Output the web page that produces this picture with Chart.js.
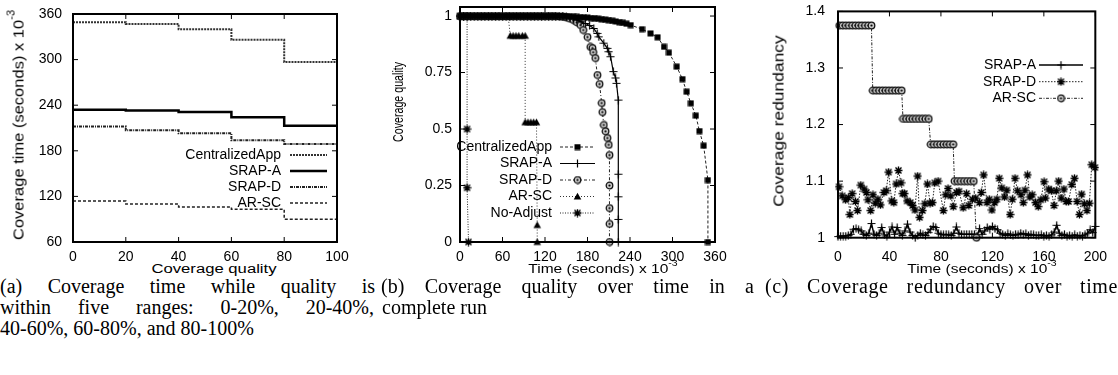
<!DOCTYPE html>
<html><head><meta charset="utf-8">
<script src="https://cdn.jsdelivr.net/npm/chart.js@4.4.0/dist/chart.umd.min.js"></script>
<style>
html,body{margin:0;padding:0;background:#fff;}
#root{position:relative;width:1118px;height:375px;overflow:hidden;background:#fff;}
canvas{position:absolute;}
.lab{position:absolute;font-family:"Liberation Sans",Arial,sans-serif;color:#000;white-space:nowrap;line-height:1;}
.lab sup{font-size:68%;vertical-align:top;position:relative;top:-0.35em;}
.cap{position:absolute;font-family:"Liberation Serif","Times New Roman",serif;font-size:20px;line-height:21px;white-space:nowrap;color:#000;}
.just{text-align:justify;text-align-last:justify;white-space:normal;}
</style></head>
<body><div id="root">
<canvas id="ca" width="360" height="272" style="left:0;top:-10px;width:360px;height:272px"></canvas>
<canvas id="cb" width="360" height="272" style="left:380px;top:-10px;width:360px;height:272px"></canvas>
<canvas id="cc" width="368" height="272" style="left:750px;top:-10px;width:368px;height:272px"></canvas>

<div class="lab" id="ya" style="left:18px;top:125px;font-size:15px">Coverage time (seconds) x 10<sup>-3</sup></div>
<div class="lab" id="yb" style="left:398px;top:102px;font-size:14px">Coverage quality</div>
<div class="lab" id="yc" style="left:778px;top:121px;font-size:15px">Coverage redundancy</div>

<div class="lab" id="xa" style="left:214px;top:269px;font-size:12px">Coverage quality</div>
<div class="lab" id="xb" style="left:603px;top:269px;font-size:12px">Time (seconds) x 10<sup>-3</sup></div>
<div class="lab" id="xc" style="left:982px;top:269px;font-size:12px">Time (seconds) x 10<sup>-3</sup></div>

<div class="cap just" style="left:0;top:276px;width:375px">(a) Coverage time while quality is</div>
<div class="cap just" style="left:0;top:297px;width:374px">within five ranges: 0-20%, 20-40%,</div>
<div class="cap" style="left:0;top:318px">40-60%, 60-80%, and 80-100%</div>
<div class="cap just" style="left:381px;top:276px;width:373px">(b) Coverage quality over time in a</div>
<div class="cap" style="left:382px;top:297px">complete run</div>
<div class="cap just" style="left:765px;top:276px;width:353px;letter-spacing:0.6px">(c) Coverage redundancy over time</div>
</div>
<script>
// ---------- Panel (a): coverage time per quality range ----------
const aQuality     = [0, 20, 40, 60, 80, 100];
const aCentralized = [349, 347, 340, 326, 297, 297];
const aSrapA       = [234, 233, 231, 224, 213, 213];
const aSrapD       = [212, 207, 203, 194, 189, 189];
const aArSc        = [114, 110, 106, 103, 90, 90];
const aTicksX = [0, 20, 40, 60, 80, 100];
const aTicksY = [60, 120, 180, 240, 300, 360];

// ---------- Panel (b): coverage quality over time ----------
const bCentralT = [0,5,10,15,20,25,30,35,40,45,50,55,60,65,70,75,80,85,90,95,100,105,110,115,120,125,130,135,140,145,150,
  155,160,165,170,175,180,185,190,195,200,205,210,215,220,225,230,235,
  241,257,269,279,288,295,306,314,320,326,333,338,344,350,350];
const bCentralQ = [1,1,1,1,1,1,1,1,1,1,1,1,1,1,1,1,1,1,1,1,1,1,1,1,1,1,1,1,1,1,1,
  0.998,0.997,0.996,0.995,0.994,0.993,0.991,0.99,0.988,0.986,0.984,0.982,0.979,0.976,0.973,0.97,0.966,
  0.96,0.942,0.923,0.906,0.864,0.838,0.776,0.721,0.665,0.614,0.559,0.491,0.426,0.274,0];
const bSrapAT = [0,5,10,15,20,25,30,35,40,45,50,55,60,65,70,75,80,85,90,95,100,105,110,115,120,125,130,135,140,145,
  150,155,160,165,171,177,183,
  188.9,193.7,196,203,208,210,212.6,216.4,219.7,221,
  223.5,223.5,223.5,223.5,223.5];
const bSrapAQ = [1,1,1,1,1,1,1,1,1,1,1,1,1,1,1,1,1,1,1,1,1,1,1,1,1,1,1,1,1,1,
  0.996,0.993,0.988,0.982,0.975,0.967,0.958,
  0.945,0.923,0.908,0.88,0.857,0.842,0.82,0.754,0.726,0.702,
  0.628,0.3,0.2,0.1,0];
const bSrapDT = [0,5,10,15,20,25,30,35,40,45,50,55,60,65,70,75,80,85,90,95,100,105,110,115,120,125,130,135,
  140,145,150,155,160,165,170,174,180,184,
  187,188,191,194,197,200,201,203,205.5,208,
  210,211,211,211,211,211];
const bSrapDQ = [1,1,1,1,1,1,1,1,1,1,1,1,1,1,1,1,1,1,1,1,1,1,1,1,1,1,1,1,
  0.998,0.996,0.993,0.988,0.982,0.972,0.96,0.938,0.907,0.863,
  0.858,0.84,0.814,0.739,0.699,0.615,0.575,0.518,0.49,0.46,
  0.43,0.385,0.25,0.15,0.08,0];
const bArScT = [0,5,10,15,20,25,30,35,40,45,50,55,60,65,68,71,75,79,83,88,92,92,96,100,104,108,109,109];
const bArScQ = [1,1,1,1,1,1,1,1,1,1,1,1,1,1,1,0.913,0.913,0.913,0.913,0.913,0.913,0.53,0.53,0.53,0.53,0.53,0.075,0];
const bNoAdjT = [0,5,10,10,10,12];
const bNoAdjQ = [1,1,1,0.5,0.24,0];
const bTicksX = [0, 60, 120, 180, 240, 300, 360];
const bTicksY = [0, 0.25, 0.5, 0.75, 1];

// ---------- Panel (c): coverage redundancy over time ----------
const cSrapAT = [0,2,4,6,8,10,12,14,16,18,20,22,24,26,28,30,32,34,36,38,40,42,44,46,48,50,52,54,56,58,60,62,64,66,68,70,
  72,74,76,78,80,82,84,86,88,90,92,94,96,98,100,102,104,106,108,110,112,114,116,118,120,122,124,126,128,130,132,134,136,138,
  140,142,144,146,148,150,152,154,156,158,160,162,164,166,168,170,172,174,176,178,180,182,184,186,188,190,192,194,196,198,200];
const cSrapAR = [1.002,1.003,1.003,1.003,1.004,1.006,1.015,1.016,1.014,1.012,1.006,1.004,1.008,1.025,1.006,1.004,1.008,1.018,1.005,1.003,
  1.01,1.019,1.006,1.018,1.008,1.004,1.012,1.024,1.01,1.004,1.0,1.004,1.008,1.005,1.004,1.009,1.015,1.02,1.018,1.008,
  1.006,1.005,1.006,1.005,1.004,1.008,1.019,1.008,1.006,1.006,1.006,1.006,1.006,1.006,1.003,1.016,1.006,1.012,1.018,1.015,
  1.02,1.016,1.014,1.008,1.006,1.004,1.007,1.005,1.004,1.006,1.005,1.008,1.006,1.007,1.004,1.006,1.005,1.004,1.004,1.005,
  1.003,1.004,1.003,1.005,1.01,1.022,1.008,1.004,1.006,1.003,1.004,1.003,1.005,1.003,1.004,1.003,1.005,1.008,1.014,1.009,1.02];
const cSrapDT = [0.8,3.3,5.9,8,9.2,11,13.6,15.2,17.7,20.3,22.1,23.3,25.4,27.2,29,31,33,35.7,37.5,39.3,41.8,43.4,45.2,47,49,
  50.3,51.6,53.7,56.2,58,59.8,61.9,63.4,65.7,67.5,69.5,71.6,73.4,75.2,77.8,81.9,83.7,85.5,87.6,89.6,92.2,94,97.3,99.9,
  101.7,104.5,107,109.9,111.4,113.2,115.8,117.6,119.6,121.7,123.5,125.3,127.3,129.4,131.2,133.8,135.5,137.6,139.6,142.2,
  144,145.3,147.3,149.1,150.9,153.5,155.6,157.6,160.2,161.2,163.8,165.8,167.9,169.7,171.5,173.5,175.6,177.4,179.2,181.7,
  183.8,185.8,187.7,189.4,191.5,193.5,195.4,197.2,199.7];
const cSrapDR = [1.09,1.074,1.067,1.071,1.041,1.078,1.064,1.048,1.093,1.086,1.08,1.067,1.048,1.076,1.061,1.068,1.058,1.08,1.083,1.116,
  1.065,1.062,1.095,1.119,1.097,1.078,1.078,1.065,1.062,1.057,1.049,1.109,1.036,1.048,1.06,1.095,1.061,1.062,1.097,1.1,
  1.048,1.076,1.087,1.074,1.055,1.08,1.082,1.053,1.078,1.057,1.068,1.07,1.062,1.08,1.111,1.062,1.068,1.049,1.062,1.068,
  1.105,1.088,1.072,1.084,1.041,1.068,1.105,1.083,1.076,1.062,1.084,1.111,1.072,1.076,1.062,1.055,1.067,1.099,1.07,1.086,
  1.083,1.057,1.083,1.1,1.07,1.086,1.064,1.064,1.094,1.105,1.064,1.041,1.077,1.06,1.048,1.061,1.129,1.124];
const cArScT = [1,3.5,6,8.5,11,13.5,16,18.5,21,23.5,26,
  27,29.5,32,34.5,37,39.5,42,44.5,47,49.5,
  50.5,53,55.5,58,60.5,63,65.5,68,70.5,
  72,74.5,77,79.5,82,84.5,87,89.5,
  90.5,93,95.5,98,100.5,103,105.5,107.5];
const cArScR = [1.375,1.375,1.375,1.375,1.375,1.375,1.375,1.375,1.375,1.375,1.375,
  1.26,1.26,1.26,1.26,1.26,1.26,1.26,1.26,1.26,1.26,
  1.21,1.21,1.21,1.21,1.21,1.21,1.21,1.21,1.21,
  1.165,1.165,1.165,1.165,1.165,1.165,1.165,1.165,
  1.1,1.1,1.1,1.1,1.1,1.1,1.1,1.0];
const cTicksX = [0, 40, 80, 120, 160, 200];
const cTicksY = [1, 1.1, 1.2, 1.3, 1.4];

// ---------- marker images ----------
function mk(size, draw){ const c=document.createElement('canvas'); c.width=c.height=size; const g=c.getContext('2d'); draw(g,size/2); return c; }
const mSquare = mk(7,(g)=>{ g.fillStyle='#000'; g.fillRect(0.5,0.5,6,6); });
const mPlus = mk(9,(g,h)=>{ g.strokeStyle='#000'; g.lineWidth=1.2; g.beginPath(); g.moveTo(h,0.5); g.lineTo(h,8.5); g.moveTo(0.5,h); g.lineTo(8.5,h); g.stroke(); });
const mCircDot = mk(9,(g,h)=>{ g.fillStyle='#c8c8c8'; g.strokeStyle='#111'; g.lineWidth=1.3; g.beginPath(); g.arc(h,h,3.3,0,Math.PI*2); g.fill(); g.stroke(); g.fillStyle='#000'; g.beginPath(); g.arc(h,h,1.1,0,Math.PI*2); g.fill(); });
const mTri = mk(9,(g)=>{ g.fillStyle='#000'; g.beginPath(); g.moveTo(4.5,0.8); g.lineTo(8.3,7.6); g.lineTo(0.7,7.6); g.closePath(); g.fill(); });
const mStar = mk(9,(g,h)=>{ g.strokeStyle='#000'; g.lineWidth=1.4; g.beginPath(); g.moveTo(h,0.5); g.lineTo(h,8.5); g.moveTo(0.5,h); g.lineTo(8.5,h); g.moveTo(1.5,1.5); g.lineTo(7.5,7.5); g.moveTo(7.5,1.5); g.lineTo(1.5,7.5); g.stroke(); });

const FONT = '"Liberation Sans", Arial, sans-serif';
const pts = (t, v) => t.map((x, i) => ({x: x, y: v[i]}));

const framePlugin = {
  id: 'frame',
  afterDatasetsDraw(chart, args, o) {
    const {ctx, chartArea: a} = chart;
    const x = chart.scales.x, y = chart.scales.y;
    ctx.save();
    ctx.strokeStyle = '#000'; ctx.lineWidth = 1; ctx.setLineDash([]);
    const tl = 5;
    ctx.beginPath();
    x.ticks.forEach(t => { const p = x.getPixelForValue(t.value);
      ctx.moveTo(p, a.bottom); ctx.lineTo(p, a.bottom - tl); ctx.moveTo(p, a.top); ctx.lineTo(p, a.top + tl); });
    y.ticks.forEach(t => { const p = y.getPixelForValue(t.value);
      ctx.moveTo(a.left, p); ctx.lineTo(a.left + tl, p); ctx.moveTo(a.right, p); ctx.lineTo(a.right - tl, p); });
    ctx.stroke();
    ctx.lineWidth = 2;
    ctx.strokeRect(a.left, a.top, a.right - a.left, a.bottom - a.top);
    const L = o.legend;
    if (L) {
      ctx.font = '14px ' + FONT; ctx.textAlign = 'right'; ctx.textBaseline = 'middle'; ctx.fillStyle = '#000';
      chart.data.datasets.forEach((ds, i) => {
        const yy = L.ys[i] - o.oy;
        ctx.fillText(ds.label, L.tr - o.ox, yy);
        ctx.save(); ctx.setLineDash(ds.borderDash || []); ctx.lineWidth = ds.borderWidth; ctx.strokeStyle = ds.borderColor;
        ctx.beginPath(); ctx.moveTo(L.x1 - o.ox, yy); ctx.lineTo(L.x2 - o.ox, yy); ctx.stroke(); ctx.restore();
        if (ds.pointStyle && ds.pointStyle.getContext) { const m = ds.pointStyle; ctx.drawImage(m, (L.x1 + L.x2)/2 - o.ox - m.width/2, yy - m.height/2); }
      });
    }
    ctx.restore();
  }
};

function axis(min, max, ticks, pad, fitKey, fitVal, fmt) {
  return {
    type: 'linear', min: min, max: max,
    grid: {display: false, drawTicks: false}, border: {display: false},
    ticks: {font: {family: FONT, size: 14}, color: '#000', padding: pad, maxRotation: 0, autoSkip: false,
            callback: fmt || (v => String(v))},
    afterBuildTicks: s => { s.ticks = ticks.map(v => ({value: v})); },
    afterFit: s => { s[fitKey] = fitVal; }
  };
}

function make(id, datasets, xs, ys, padding, frameOpts) {
  return new Chart(document.getElementById(id), {
    type: 'line',
    data: {datasets: datasets},
    options: {
      responsive: false, animation: false, devicePixelRatio: 1, events: [],
      layout: {padding: padding},
      plugins: {legend: {display: false}, tooltip: {enabled: false}, frame: frameOpts},
      scales: {x: xs, y: ys},
      elements: {line: {tension: 0}}
    },
    plugins: [framePlugin]
  });
}

// Panel (a)
make('ca', [
  {label: 'CentralizedApp', data: pts(aQuality, aCentralized), stepped: 'before', borderColor: '#333', borderWidth: 2, borderDash: [2, 1], pointRadius: 0, clip: false},
  {label: 'SRAP-A', data: pts(aQuality, aSrapA), stepped: 'before', borderColor: '#000', borderWidth: 2.5, pointRadius: 0, clip: false},
  {label: 'SRAP-D', data: pts(aQuality, aSrapD), stepped: 'before', borderColor: '#222', borderWidth: 2, borderDash: [3, 1, 1, 1], pointRadius: 0, clip: false},
  {label: 'AR-SC', data: pts(aQuality, aArSc), stepped: 'before', borderColor: '#222', borderWidth: 1.5, borderDash: [3, 2], pointRadius: 0, clip: false}
], axis(0, 100, aTicksX, 7, 'height', 20), axis(60, 360, aTicksY, 11, 'width', 73),
  {top: 24, right: 23, left: 0, bottom: 0},
  {ox: 0, oy: -10, legend: {tr: 281, x1: 290, x2: 327, ys: [155, 171, 187, 203]}});

// Panel (b)
make('cb', [
  {label: 'CentralizedApp', data: pts(bCentralT, bCentralQ), borderColor: '#222', borderWidth: 1, borderDash: [3, 2], pointStyle: mSquare, pointRadius: 3, clip: false},
  {label: 'SRAP-A', data: pts(bSrapAT, bSrapAQ), borderColor: '#000', borderWidth: 1.2, pointStyle: mPlus, pointRadius: 3, clip: false},
  {label: 'SRAP-D', data: pts(bSrapDT, bSrapDQ), borderColor: '#222', borderWidth: 1, borderDash: [3, 2, 1, 2], pointStyle: mCircDot, pointRadius: 3, clip: false},
  {label: 'AR-SC', data: pts(bArScT, bArScQ), borderColor: '#333', borderWidth: 1, borderDash: [1, 2], pointStyle: mTri, pointRadius: 3, clip: false},
  {label: 'No-Adjust', data: pts(bNoAdjT, bNoAdjQ), borderColor: '#222', borderWidth: 1, borderDash: [1, 1.5], pointStyle: mStar, pointRadius: 3, clip: false}
], axis(0, 360, bTicksX, 7, 'height', 20), axis(0, 1.04, bTicksY, 8, 'width', 80),
  {top: 17, right: 25, left: 0, bottom: 0},
  {ox: 380, oy: -10, legend: {tr: 552, x1: 560, x2: 595, ys: [147, 163.5, 180, 196.5, 213]}});

// Panel (c)
make('cc', [
  {label: 'SRAP-A', data: pts(cSrapAT, cSrapAR), borderColor: '#000', borderWidth: 1.5, pointStyle: mPlus, pointRadius: 3, clip: false, order: 1},
  {label: 'SRAP-D', data: pts(cSrapDT, cSrapDR), borderColor: '#222', borderWidth: 1, borderDash: [1.5, 1.5], pointStyle: mStar, pointRadius: 3, clip: false, order: 2},
  {label: 'AR-SC', data: pts(cArScT, cArScR), borderColor: '#222', borderWidth: 1, borderDash: [3, 1.5, 1, 1.5], pointStyle: mCircDot, pointRadius: 3, clip: false, order: 0}
], axis(0, 200, cTicksX, 11, 'height', 24.3), axis(1, 1.4, cTicksY, 13, 'width', 88),
  {top: 17.3, right: 20, left: 0, bottom: 0},
  {ox: 750, oy: -10, legend: {tr: 1036, x1: 1039, x2: 1083, ys: [65, 81.7, 98.3]}});

// fit axis titles to their lengths in the reference
function fitRot(id, len){ const el=document.getElementById(id); const w=el.offsetWidth; el.style.transform='translate(-50%,-50%) rotate(-90deg) scaleX(' + (len/w) + ')'; }
function fitH(id, len){ const el=document.getElementById(id); const w=el.offsetWidth; el.style.transform='translate(-50%,-50%) scaleX(' + (len/w) + ')'; }
fitRot('ya', 230); fitRot('yb', 80); fitRot('yc', 172);
fitH('xa', 125); fitH('xb', 150); fitH('xc', 150);
</script>
</body></html>
